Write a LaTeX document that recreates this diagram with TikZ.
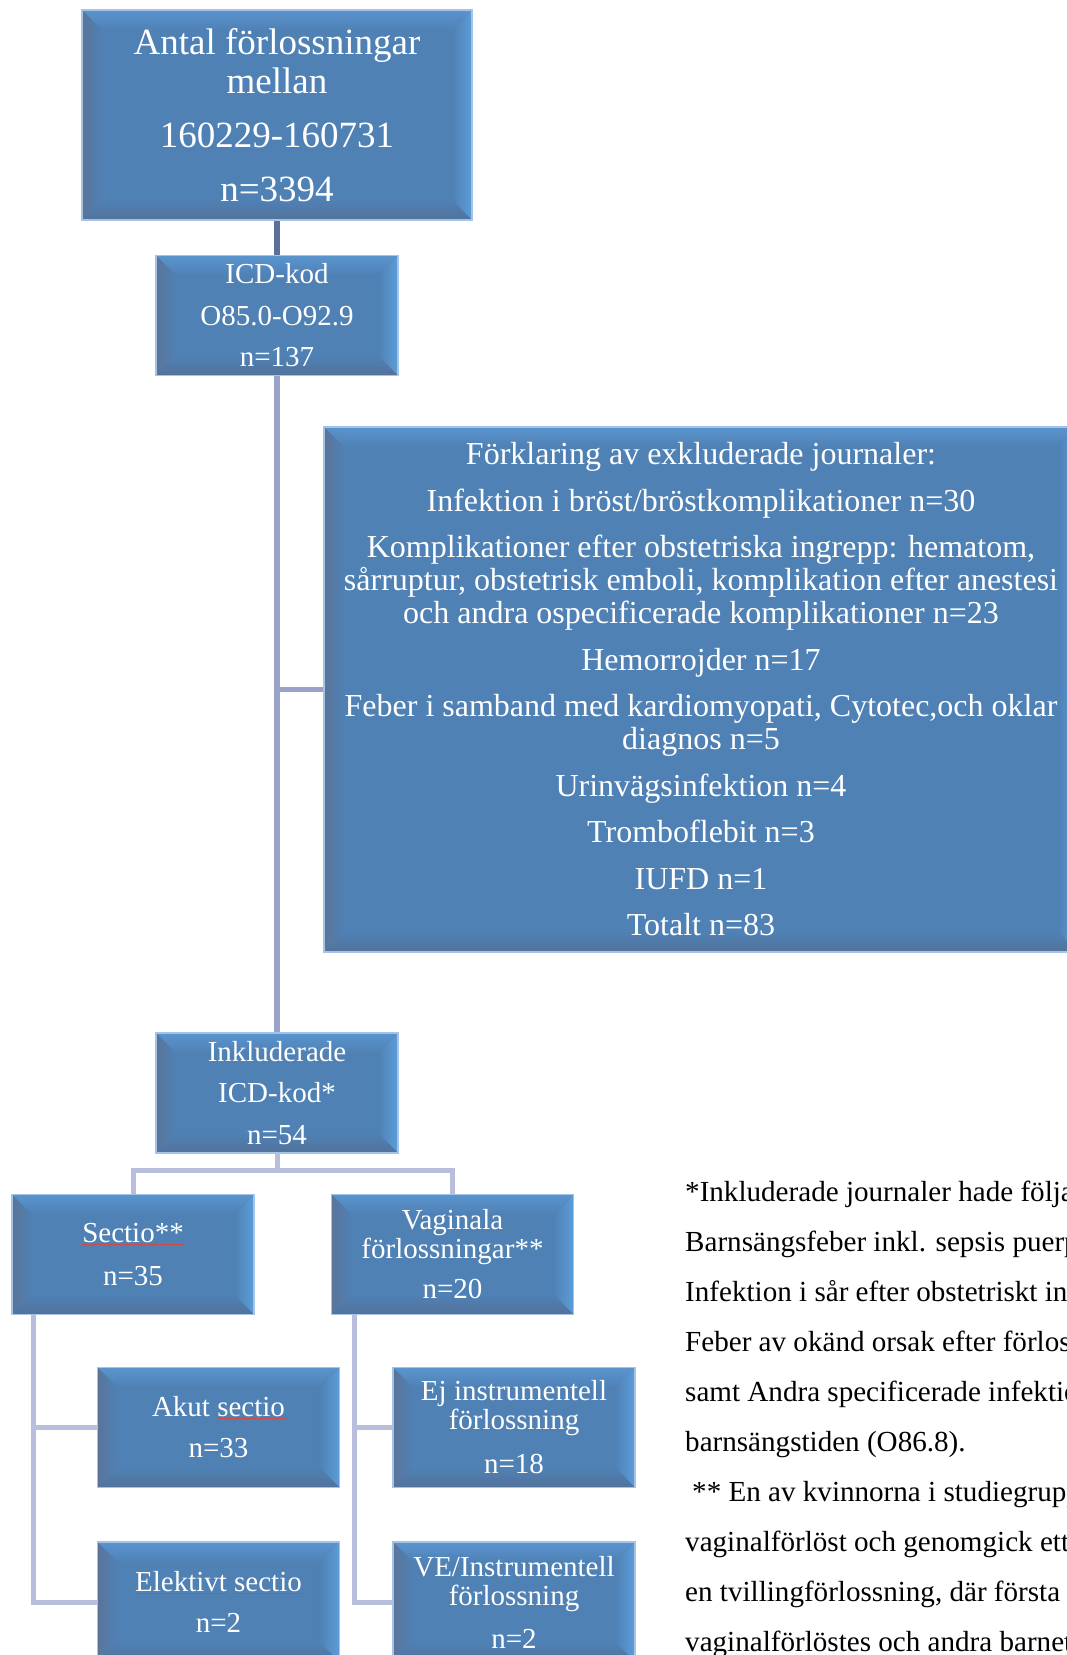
\documentclass[tikz,border=0pt]{standalone}
\usepackage{fontspec}
\setmainfont{Liberation Serif}
\usepackage{tikz}
\usetikzlibrary{positioning,calc}
\definecolor{safill}{HTML}{4F81B5}
\definecolor{sabord}{HTML}{A5C3E6}
\definecolor{bevtop}{HTML}{5A94CE}
\definecolor{bevleft}{HTML}{5B7499}
\definecolor{bevright}{HTML}{5C9DD8}
\definecolor{bevbot}{HTML}{52729A}
\definecolor{trunkc}{HTML}{5C6E9C}
\definecolor{stemc}{HTML}{9AA2C8}
\definecolor{branchc}{HTML}{B9BEDC}
\definecolor{spellred}{HTML}{D04848}
\newcommand\bev{20pt}
% bevelled faces of the smartart boxes
\newcommand\bevelfaces{%
  \path (path picture bounding box.north west) coordinate (bnw)
        (path picture bounding box.north east) coordinate (bne)
        (path picture bounding box.south west) coordinate (bsw)
        (path picture bounding box.south east) coordinate (bse);
  \fill[top color=bevtop, bottom color=safill] (bnw) -- (bne) -- ($(bne)+(-\bev,-\bev)$) -- ($(bnw)+(\bev,-\bev)$) -- cycle;
  \fill[left color=bevleft, right color=safill] (bnw) -- ($(bnw)+(\bev,-\bev)$) -- ($(bsw)+(\bev,\bev)$) -- (bsw) -- cycle;
  \fill[left color=safill, right color=bevright] (bne) -- (bse) -- ($(bse)+(-\bev,\bev)$) -- ($(bne)+(-\bev,-\bev)$) -- cycle;
  \fill[top color=safill, bottom color=bevbot] (bsw) -- ($(bsw)+(\bev,\bev)$) -- ($(bse)+(-\bev,\bev)$) -- (bse) -- cycle;
}
\newcommand\spell[1]{\textcolor{spellred}{\underline{\textcolor{white}{#1}}}}
\tikzset{
  sabox/.style={rectangle, draw=sabord, line width=1.5pt, fill=safill, text=white,
    align=center, inner sep=0pt, minimum width=242pt, minimum height=120pt,
    font=\fontsize{29}{29}\selectfont, path picture={\bevelfaces}},
  bigbox/.style={sabox, minimum width=390pt, minimum height=210pt,
    font=\fontsize{37}{39}\selectfont},
  exclbox/.style={sabox, minimum width=754pt, minimum height=525pt,
    font=\fontsize{32}{33}\selectfont},
  trunk/.style={draw=trunkc, line width=6pt},
  stem/.style={draw=stemc, line width=5.5pt},
  branch/.style={draw=branchc, line width=5pt},
  note/.style={anchor=base west, inner sep=0pt, font=\fontsize{29.1}{29.1}\selectfont},
}
\begin{document}
\begin{tikzpicture}[x=1pt, y=1pt]
\useasboundingbox (0,0) rectangle (1067,-1655);
\clip (0,0) rectangle (1067,-1655);
\fill[white] (0,0) rectangle (1067,-1655);

\node[bigbox] (antal) at (277,-115) {Antal förlossningar\\mellan\\[15pt]160229-160731\\[15pt]n=3394};
\node[sabox, below=34pt of antal] (icd) {ICD-kod\\[12.5pt]O85.0-O92.9\\[12.5pt]n=137};
\node[exclbox] (excl) at (701,-689.5) {Förklaring av exkluderade journaler:\\[13.5pt]
  Infektion i bröst/bröstkomplikationer n=30\\[13.5pt]
  Komplikationer efter obstetriska ingrepp: hematom,\\sårruptur, obstetrisk emboli, komplikation efter anestesi\\och andra ospecificerade komplikationer n=23\\[13.5pt]
  Hemorrojder n=17\\[13.5pt]
  Feber i samband med kardiomyopati, Cytotec,och oklar\\diagnos n=5\\[13.5pt]
  Urinvägsinfektion n=4\\[13.5pt]
  Tromboflebit n=3\\[13.5pt]
  IUFD n=1\\[13.5pt]
  Totalt n=83};
\node[sabox, below=656pt of icd] (inkl) {Inkluderade\\[12.5pt]ICD-kod*\\[12.5pt]n=54};

\node[sabox] (sectio) at (133,-1254.5) {\spell{Sectio**}\\[14pt]n=35};
\node[sabox, right=76pt of sectio] (vag) {Vaginala\\förlossningar**\\[11pt]n=20};
\node[sabox] (akut) at (218.5,-1427.5) {Akut \spell{sectio}\\[12pt]n=33};
\node[sabox, below=53pt of akut] (elektiv) {\spell{Elektivt} \spell{sectio}\\[12pt]n=2};
\node[sabox, right=52pt of akut] (ej) {Ej instrumentell\\förlossning\\[15pt]n=18};
\node[sabox, below=53pt of ej] (ve) {VE/Instrumentell\\förlossning\\[14pt]n=2};

\draw[trunk] (antal) -- (icd);
\draw[stem] (icd) -- (inkl);
\draw[stem] (excl.west -| icd.south) -- (excl.west);
\draw[branch] (inkl.south) -- ++(0,-17) -| (sectio.north);
\draw[branch] (inkl.south) -- ++(0,-17) -| (vag.north);
\draw[branch] ([xshift=22pt]sectio.south west) |- (akut.west);
\draw[branch] ([xshift=22pt]sectio.south west) |- (elektiv.west);
\draw[branch] ([xshift=24pt]vag.south west) |- (ej.west);
\draw[branch] ([xshift=24pt]vag.south west) |- (ve.west);

% footnotes on the right
\foreach \txt [count=\i] in {
  {*Inkluderade journaler hade följande},
  {Barnsängsfeber inkl. sepsis puerperalis},
  {Infektion i sår efter obstetriskt ingrepp},
  {Feber av okänd orsak efter förlossning},
  {samt Andra specificerade infektioner},
  {barnsängstiden (O86.8).},
  {\hspace{7pt}** En av kvinnorna i studiegruppen},
  {vaginalförlöst och genomgick ett},
  {en tvillingförlossning, där första},
  {vaginalförlöstes och andra barnet}}
  \node[note] (note\i) at (685,{-1201-50*(\i-1)}) {\txt};
\end{tikzpicture}
\end{document}
